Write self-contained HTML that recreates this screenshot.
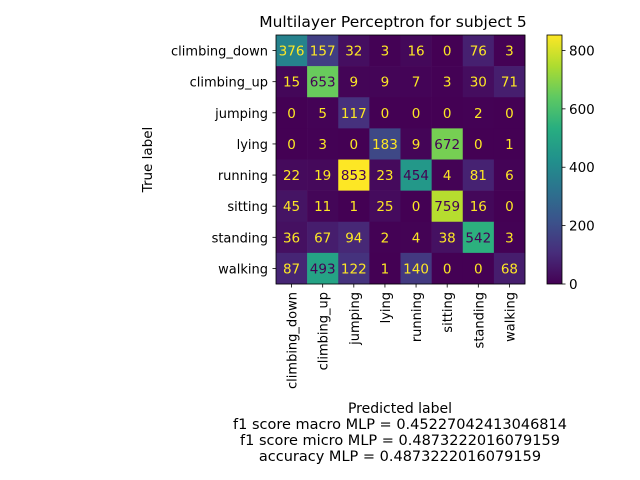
<!DOCTYPE html>
<html><head><meta charset="utf-8"><style>
body{margin:0;background:#fff;}
svg{display:block;font-family:"DejaVu Sans","Liberation Sans",sans-serif;}
</style></head><body>
<svg id="chart" width="640" height="480" viewBox="0 0 640 480" xmlns="http://www.w3.org/2000/svg">
<rect width="640" height="480" fill="#fff"/>
<text x="393" y="27" font-size="15.5" text-anchor="middle" fill="#000">Multilayer Perceptron for subject 5</text>
<g id="cells"></g>
<g id="ylabels"></g>
<g id="xlabels"></g>
<rect x="276" y="35" width="249" height="249" fill="none" stroke="#000" stroke-width="0.8"/>
<text transform="translate(152,159.5) rotate(-90)" font-size="13.5" text-anchor="middle">True label</text>
<text x="400" y="413" font-size="14" text-anchor="middle">Predicted label</text>
<text x="400" y="429" font-size="14.5" text-anchor="middle">f1 score macro MLP = 0.45227042413046814</text>
<text x="400" y="445" font-size="14.5" text-anchor="middle">f1 score micro MLP = 0.4873222016079159</text>
<text x="400" y="461" font-size="14.5" text-anchor="middle">accuracy MLP = 0.4873222016079159</text>
<defs><linearGradient id="vir" x1="0" y1="1" x2="0" y2="0">
<stop offset="0" stop-color="#440154"/><stop offset="0.125" stop-color="#472d7b"/><stop offset="0.25" stop-color="#3b528b"/><stop offset="0.375" stop-color="#2c728e"/><stop offset="0.5" stop-color="#21918c"/><stop offset="0.625" stop-color="#28ae80"/><stop offset="0.75" stop-color="#5ec962"/><stop offset="0.875" stop-color="#addc30"/><stop offset="1" stop-color="#fde725"/>
</linearGradient></defs>
<rect x="547" y="35" width="15" height="249" fill="url(#vir)" stroke="#000" stroke-width="0.8"/>
<g id="cbticks"></g>
</svg>
<script>
const classes = ["climbing_down","climbing_up","jumping","lying","running","sitting","standing","walking"];
const matrix = [
[376,157,32,3,16,0,76,3],
[15,653,9,9,7,3,30,71],
[0,5,117,0,0,0,2,0],
[0,3,0,183,9,672,0,1],
[22,19,853,23,454,4,81,6],
[45,11,1,25,0,759,16,0],
[36,67,94,2,4,38,542,3],
[87,493,122,1,140,0,0,68]
];
const cbTicks = [0,200,400,600,800];

const NS="http://www.w3.org/2000/svg";
const X0=276,Y0=35,W=249,H=249,n=classes.length,cw=W/n,ch=H/n;
let vmin=Infinity,vmax=-Infinity;
matrix.forEach(r=>r.forEach(v=>{vmin=Math.min(vmin,v);vmax=Math.max(vmax,v);}));
const stops=["#440154","#472d7b","#3b528b","#2c728e","#21918c","#28ae80","#5ec962","#addc30","#fde725"].map(h=>[1,3,5].map(i=>parseInt(h.substr(i,2),16)));
function vir(t){t=Math.max(0,Math.min(1,t));const p=t*(stops.length-1),i=Math.min(Math.floor(p),stops.length-2),f=p-i;
const c=stops[i].map((a,k)=>Math.round(a+(stops[i+1][k]-a)*f));return `rgb(${c.join(",")})`;}
function mk(tag,attrs,parent){const e=document.createElementNS(NS,tag);for(const k in attrs)e.setAttribute(k,attrs[k]);parent.appendChild(e);return e;}
const cells=document.getElementById("cells");
const thresh=(vmin+vmax)/2;
matrix.forEach((row,i)=>row.forEach((v,j)=>{
  const r=mk("rect",{x:X0+j*cw,y:Y0+i*ch,width:cw+0.3,height:ch+0.3,fill:vir((v-vmin)/(vmax-vmin))},cells);
  
  
  const t=mk("text",{x:X0+(j+0.5)*cw,y:Y0+(i+0.5)*ch+5,"font-size":"13.5","text-anchor":"middle",fill:v>thresh?"#440154":"#fde725"},cells);
  
  
  t.textContent=v;
}));
const yl=document.getElementById("ylabels"),xl=document.getElementById("xlabels");
classes.forEach((c,i)=>{
  const y=Y0+(i+0.5)*ch;
  mk("line",{x1:X0-3.5,x2:X0,y1:y,y2:y,stroke:"#000","stroke-width":0.8},yl);
  const t=mk("text",{x:X0-8,y:y+5,"font-size":"13","text-anchor":"end"},yl);
  
  
  t.textContent=c;
  const x=X0+(i+0.5)*cw;
  mk("line",{x1:x,x2:x,y1:Y0+H,y2:Y0+H+3.5,stroke:"#000","stroke-width":0.8},xl);
  const u=mk("text",{transform:`translate(${x+5},${Y0+H+8}) rotate(-90)`,"font-size":"13","text-anchor":"end"},xl);
  
  
  u.textContent=c;
});
const cb=document.getElementById("cbticks");
cbTicks.forEach(v=>{
  const y=284-(v-vmin)/(vmax-vmin)*249;
  mk("line",{x1:562,x2:565.5,y1:y,y2:y,stroke:"#000","stroke-width":0.8},cb);
  const t=mk("text",{x:569,y:y+5,"font-size":"13.5"},cb);
  
  
  t.textContent=v;
});
</script>
</body></html>
